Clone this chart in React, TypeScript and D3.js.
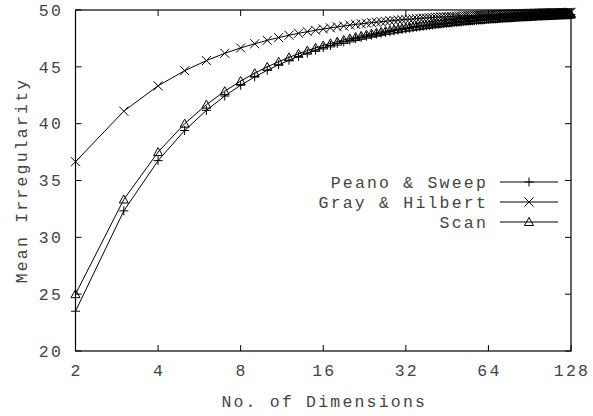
import React from 'react';
import * as d3 from 'd3';

// number of dimensions (x)
const dims = [
  2, 3, 4, 5, 6, 7, 8, 9, 10, 11, 12, 13, 14, 15, 16, 17, 18, 19, 20, 21, 22, 23, 24, 25, 26, 27, 28, 29, 30,
  31, 32, 33, 34, 35, 36, 37, 38, 39, 40, 41, 42, 43, 44, 45, 46, 47, 48, 49, 50, 51, 52, 53, 54, 55, 56, 57,
  58, 59, 60, 61, 62, 63, 64, 65, 66, 67, 68, 69, 70, 71, 72, 73, 74, 75, 76, 77, 78, 79, 80, 81, 82, 83, 84,
  85, 86, 87, 88, 89, 90, 91, 92, 93, 94, 95, 96, 97, 98, 99, 100, 101, 102, 103, 104, 105, 106, 107, 108,
  109, 110, 111, 112, 113, 114, 115, 116, 117, 118, 119, 120, 121, 122, 123, 124, 125, 126, 127, 128,
];

const peanoSweep = [
  23.5, 32.33, 36.75, 39.4, 41.17, 42.43, 43.38, 44.11, 44.7, 45.18, 45.58, 45.92, 46.21, 46.47, 46.69,
  46.88, 47.06, 47.21, 47.35, 47.48, 47.59, 47.7, 47.79, 47.88, 47.96, 48.04, 48.11, 48.17, 48.23, 48.29,
  48.34, 48.39, 48.44, 48.49, 48.53, 48.57, 48.61, 48.64, 48.68, 48.71, 48.74, 48.77, 48.8, 48.82, 48.85,
  48.87, 48.9, 48.92, 48.94, 48.96, 48.98, 49.0, 49.02, 49.04, 49.05, 49.07, 49.09, 49.1, 49.12, 49.13,
  49.15, 49.16, 49.17, 49.18, 49.2, 49.21, 49.22, 49.23, 49.24, 49.25, 49.26, 49.27, 49.28, 49.29, 49.3,
  49.31, 49.32, 49.33, 49.34, 49.35, 49.35, 49.36, 49.37, 49.38, 49.38, 49.39, 49.4, 49.4, 49.41, 49.42,
  49.42, 49.43, 49.44, 49.44, 49.45, 49.45, 49.46, 49.46, 49.47, 49.48, 49.48, 49.49, 49.49, 49.5, 49.5,
  49.5, 49.51, 49.51, 49.52, 49.52, 49.53, 49.53, 49.54, 49.54, 49.54, 49.55, 49.55, 49.55, 49.56, 49.56,
  49.57, 49.57, 49.57, 49.58, 49.58, 49.58, 49.59,
];

const grayHilbert = [
  36.65, 41.1, 43.33, 44.66, 45.55, 46.19, 46.66, 47.03, 47.33, 47.57, 47.78, 47.95, 48.09, 48.22, 48.33,
  48.43, 48.52, 48.59, 48.67, 48.73, 48.79, 48.84, 48.89, 48.93, 48.97, 49.01, 49.05, 49.08, 49.11, 49.14,
  49.17, 49.19, 49.21, 49.24, 49.26, 49.28, 49.3, 49.32, 49.33, 49.35, 49.36, 49.38, 49.39, 49.41, 49.42,
  49.43, 49.44, 49.46, 49.47, 49.48, 49.49, 49.5, 49.51, 49.51, 49.52, 49.53, 49.54, 49.55, 49.56, 49.56,
  49.57, 49.58, 49.58, 49.59, 49.6, 49.6, 49.61, 49.61, 49.62, 49.62, 49.63, 49.63, 49.64, 49.64, 49.65,
  49.65, 49.66, 49.66, 49.67, 49.67, 49.67, 49.68, 49.68, 49.69, 49.69, 49.69, 49.7, 49.7, 49.7, 49.71,
  49.71, 49.71, 49.72, 49.72, 49.72, 49.72, 49.73, 49.73, 49.73, 49.74, 49.74, 49.74, 49.74, 49.75, 49.75,
  49.75, 49.75, 49.76, 49.76, 49.76, 49.76, 49.76, 49.77, 49.77, 49.77, 49.77, 49.77, 49.78, 49.78, 49.78,
  49.78, 49.78, 49.78, 49.79, 49.79, 49.79, 49.79,
];

const scan = [
  25.0, 33.33, 37.5, 40.0, 41.67, 42.86, 43.75, 44.44, 45.0, 45.45, 45.83, 46.15, 46.43, 46.67, 46.88,
  47.06, 47.22, 47.37, 47.5, 47.62, 47.73, 47.83, 47.92, 48.0, 48.08, 48.15, 48.21, 48.28, 48.33, 48.39,
  48.44, 48.48, 48.53, 48.57, 48.61, 48.65, 48.68, 48.72, 48.75, 48.78, 48.81, 48.84, 48.86, 48.89, 48.91,
  48.94, 48.96, 48.98, 49.0, 49.02, 49.04, 49.06, 49.07, 49.09, 49.11, 49.12, 49.14, 49.15, 49.17, 49.18,
  49.19, 49.21, 49.22, 49.23, 49.24, 49.25, 49.26, 49.28, 49.29, 49.3, 49.31, 49.32, 49.32, 49.33, 49.34,
  49.35, 49.36, 49.37, 49.38, 49.38, 49.39, 49.4, 49.4, 49.41, 49.42, 49.43, 49.43, 49.44, 49.44, 49.45,
  49.46, 49.46, 49.47, 49.47, 49.48, 49.48, 49.49, 49.49, 49.5, 49.5, 49.51, 49.51, 49.52, 49.52, 49.53,
  49.53, 49.54, 49.54, 49.55, 49.55, 49.55, 49.56, 49.56, 49.57, 49.57, 49.57, 49.58, 49.58, 49.58, 49.59,
  49.59, 49.59, 49.6, 49.6, 49.6, 49.61, 49.61,
];

const xTicks = [2, 4, 8, 16, 32, 64, 128];
const yTicks = [20, 25, 30, 35, 40, 45, 50];

const seriesNames = ['Peano & Sweep', 'Gray & Hilbert', 'Scan'];

// point symbols, gnuplot style
const symbols: Record<string, string> = {
  plus: 'M-4.5,0H4.5M0,-4.5V4.5',
  cross: 'M-4.5,-4.5L4.5,4.5M-4.5,4.5L4.5,-4.5',
  triangle: 'M0,-4.5L4.5,3.5L-4.5,3.5Z',
};

const W = 593;
const H = 416;
const margin = { top: 10, right: 22, bottom: 65, left: 75.5 };
const font = "'Liberation Mono', 'Courier New', monospace";

export default function App() {
  const x = d3.scaleLog().base(2).domain([2, 128]).range([margin.left, W - margin.right]);
  const y = d3.scaleLinear().domain([20, 50]).range([H - margin.bottom, margin.top]);

  const series = [
    { name: seriesNames[0], values: peanoSweep, sym: symbols.plus },
    { name: seriesNames[1], values: grayHilbert, sym: symbols.cross },
    { name: seriesNames[2], values: scan, sym: symbols.triangle },
  ];

  const line = d3.line<number>()
    .x((_, i) => x(dims[i]))
    .y(d => y(d));

  const x0 = margin.left, x1 = W - margin.right;
  const y0 = H - margin.bottom, y1 = margin.top;
  const tick = 6;

  const textStyle = { fontFamily: font, fontSize: 16.5, letterSpacing: 2.2, fill: '#444' };

  return (
    <svg width={W} height={H} style={{ position: 'fixed', left: 0, top: 0, background: '#fff' }}>
      {/* y ticks on both sides */}
      {yTicks.map(t => (
        <g key={'y' + t}>
          <line x1={x0} x2={x0 + tick} y1={y(t)} y2={y(t)} stroke="#000" />
          <line x1={x1} x2={x1 - tick} y1={y(t)} y2={y(t)} stroke="#000" />
          <text x={63} y={y(t)} dy="0.35em" textAnchor="end" {...textStyle}>{t}</text>
        </g>
      ))}
      {/* x ticks top and bottom */}
      {xTicks.map(t => (
        <g key={'x' + t}>
          <line x1={x(t)} x2={x(t)} y1={y0} y2={y0 - tick} stroke="#000" />
          <line x1={x(t)} x2={x(t)} y1={y1} y2={y1 + tick} stroke="#000" />
          <text x={x(t) + 1} y={376} textAnchor="middle" {...textStyle}>{t}</text>
        </g>
      ))}
      <rect x={x0} y={y1} width={x1 - x0} height={y0 - y1} fill="none" stroke="#000" strokeWidth={1.2} />

      {series.map(s => (
        <g key={s.name}>
          <path d={line(s.values) || ''} fill="none" stroke="#000" strokeWidth={1} />
          {s.values.map((v, i) => (
            <path key={i} d={s.sym} transform={`translate(${x(dims[i])},${y(v)})`} fill="none" stroke="#000" strokeWidth={1} />
          ))}
        </g>
      ))}

      {/* legend */}
      {series.map((s, i) => {
        const ly = 182 + i * 20;
        return (
          <g key={'lg' + s.name}>
            <text x={488} y={ly} dy="0.35em" textAnchor="end" {...textStyle}>{s.name}</text>
            <line x1={500} x2={558} y1={ly} y2={ly} stroke="#000" />
            <path d={s.sym} transform={`translate(529,${ly})`} fill="none" stroke="#000" />
          </g>
        );
      })}

      <text x={(x0 + x1) / 2 + 1} y={407} textAnchor="middle" {...textStyle}>No. of Dimensions</text>
      <text transform={`translate(27,${(y0 + y1) / 2}) rotate(-90)`} textAnchor="middle" {...textStyle}>Mean Irregularity</text>
    </svg>
  );
}
